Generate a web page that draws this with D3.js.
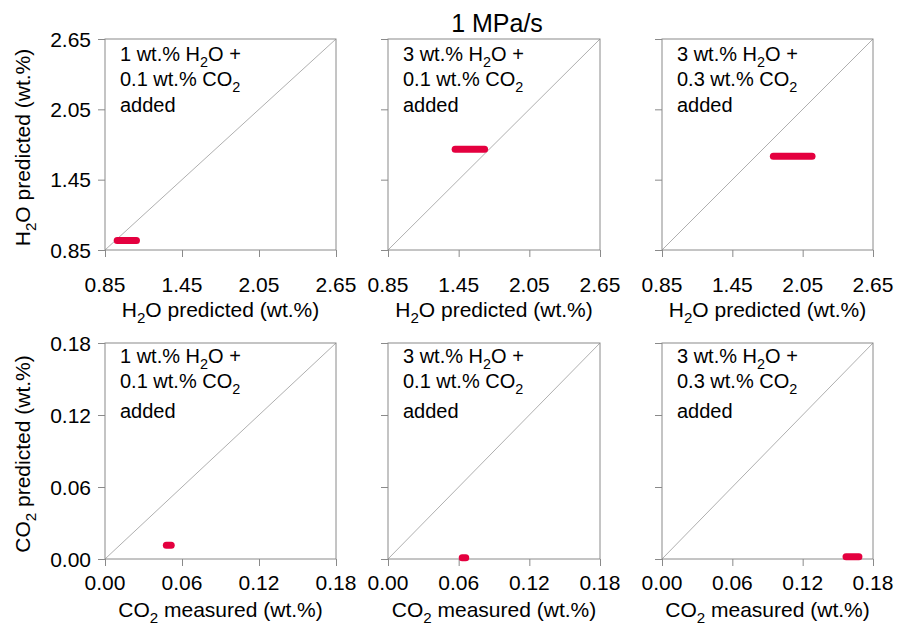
<!DOCTYPE html>
<html>
<head>
<meta charset="utf-8">
<style>
body { margin: 0; background: #fff; }
svg { font-family: "Liberation Sans", Arial, sans-serif; }
.frame { fill: none; stroke: #8a8a8a; stroke-width: 1; }
.tick line { stroke: #8a8a8a; }
.diag { stroke: #9a9a9a; stroke-width: 0.8; }
.run { stroke: #e4003f; stroke-width: 7; stroke-linecap: round; }
</style>
</head>
<body>
<svg width="901" height="627"></svg>
<script src="https://d3js.org/d3.v7.min.js"></script>
<script>
// experiments: wt.% added
var waterAdded = [1, 3, 3];
var co2Added = [0.1, 0.1, 0.3];

// tick values
var h2oTicks = [0.85, 1.45, 2.05, 2.65];
var co2Ticks = [0.00, 0.06, 0.12, 0.18];

// H2O: measured range [from, to] and predicted value, per panel
var h2oMeasured = [[0.945, 1.095], [1.42, 1.67], [1.80, 2.13]];
var h2oPredicted = [0.93, 1.71, 1.65];

// CO2: measured range [from, to] and predicted value, per panel
var co2Measured = [[0.0478, 0.0516], [0.063, 0.066], [0.157, 0.168]];
var co2Predicted = [0.0114, 0.0011, 0.0019];

var svg = d3.select("svg");

// panel boxes
var cols = [{x0: 105, x1: 336}, {x0: 388, x1: 600}, {x0: 662, x1: 873}];
var rows = [
  {y0: 39, y1: 250, ticks: h2oTicks, meas: h2oMeasured, pred: h2oPredicted,
   xTitle: ["H", "2", "O predicted (wt.%)"], yTitle: ["H", "2", "O predicted (wt.%)"],
   tickBase: 42, titleBase: 67, note: [22, 47, 73]},
  {y0: 343, y1: 559, ticks: co2Ticks, meas: co2Measured, pred: co2Predicted,
   xTitle: ["CO", "2", " measured (wt.%)"], yTitle: ["CO", "2", " predicted (wt.%)"],
   tickBase: 31, titleBase: 58, note: [20, 45, 75]}
];

var fmt = d3.format(".2f");

// text with one subscript part
function subText(sel, parts, size) {
  sel.append("tspan").text(parts[0]);
  sel.append("tspan").attr("font-size", size * 0.72).attr("dy", size * 0.28).text(parts[1]);
  sel.append("tspan").attr("dy", -size * 0.28).text(parts[2]);
}

svg.append("text")
  .attr("x", 497).attr("y", 32)
  .attr("text-anchor", "middle")
  .attr("font-size", 25)
  .text("1 MPa/s");

rows.forEach(function(r, ri) {
  cols.forEach(function(c, ci) {
    var dom = [r.ticks[0], r.ticks[r.ticks.length - 1]];
    var x = d3.scaleLinear().domain(dom).range([c.x0, c.x1]);
    var y = d3.scaleLinear().domain(dom).range([r.y1, r.y0]);
    var g = svg.append("g");

    g.append("line").attr("class", "diag")
      .attr("x1", x(dom[0])).attr("y1", y(dom[0]))
      .attr("x2", x(dom[1])).attr("y2", y(dom[1]));

    var gx = g.append("g").attr("transform", "translate(0," + r.y1 + ")")
      .call(d3.axisBottom(x).tickValues(r.ticks).tickSize(7).tickFormat(""));
    var gy = g.append("g").attr("transform", "translate(" + c.x0 + ",0)")
      .call(d3.axisLeft(y).tickValues(r.ticks).tickSize(7).tickFormat(""));
    gx.select(".domain").remove();
    gy.select(".domain").remove();

    g.append("rect").attr("class", "frame")
      .attr("x", c.x0).attr("y", r.y0)
      .attr("width", c.x1 - c.x0).attr("height", r.y1 - r.y0);

    // x tick labels
    g.selectAll(".xl").data(r.ticks).enter().append("text")
      .attr("x", function(d) { return x(d); })
      .attr("y", r.y1 + r.tickBase)
      .attr("text-anchor", "middle")
      .attr("font-size", 21)
      .text(fmt);

    // x title
    var xt = g.append("text")
      .attr("x", (c.x0 + c.x1) / 2).attr("y", r.y1 + r.titleBase)
      .attr("text-anchor", "middle").attr("font-size", 21);
    subText(xt, r.xTitle, 21);

    if (ci === 0) {
      g.selectAll(".yl").data(r.ticks).enter().append("text")
        .attr("x", c.x0 - 14)
        .attr("y", function(d) { return y(d) + 7.5; })
        .attr("text-anchor", "end")
        .attr("font-size", 21)
        .text(fmt);
      var yt = g.append("text")
        .attr("transform", "translate(30," + ((r.y0 + r.y1) / 2 + 3) + ") rotate(-90)")
        .attr("text-anchor", "middle").attr("font-size", 21);
      subText(yt, r.yTitle, 21);
    }

    // annotation
    var lx = c.x0 + 15;
    var t1 = g.append("text").attr("x", lx).attr("y", r.y0 + r.note[0]).attr("font-size", 20);
    subText(t1, [waterAdded[ci] + " wt.% H", "2", "O +"], 20);
    var t2 = g.append("text").attr("x", lx).attr("y", r.y0 + r.note[1]).attr("font-size", 20);
    subText(t2, [co2Added[ci] + " wt.% CO", "2", ""], 20);
    g.append("text").attr("x", lx).attr("y", r.y0 + r.note[2]).attr("font-size", 20).text("added");

    // measured run
    g.append("line").attr("class", "run")
      .attr("x1", x(r.meas[ci][0])).attr("x2", x(r.meas[ci][1]))
      .attr("y1", y(r.pred[ci])).attr("y2", y(r.pred[ci]));
  });
});
</script>
</body>
</html>
